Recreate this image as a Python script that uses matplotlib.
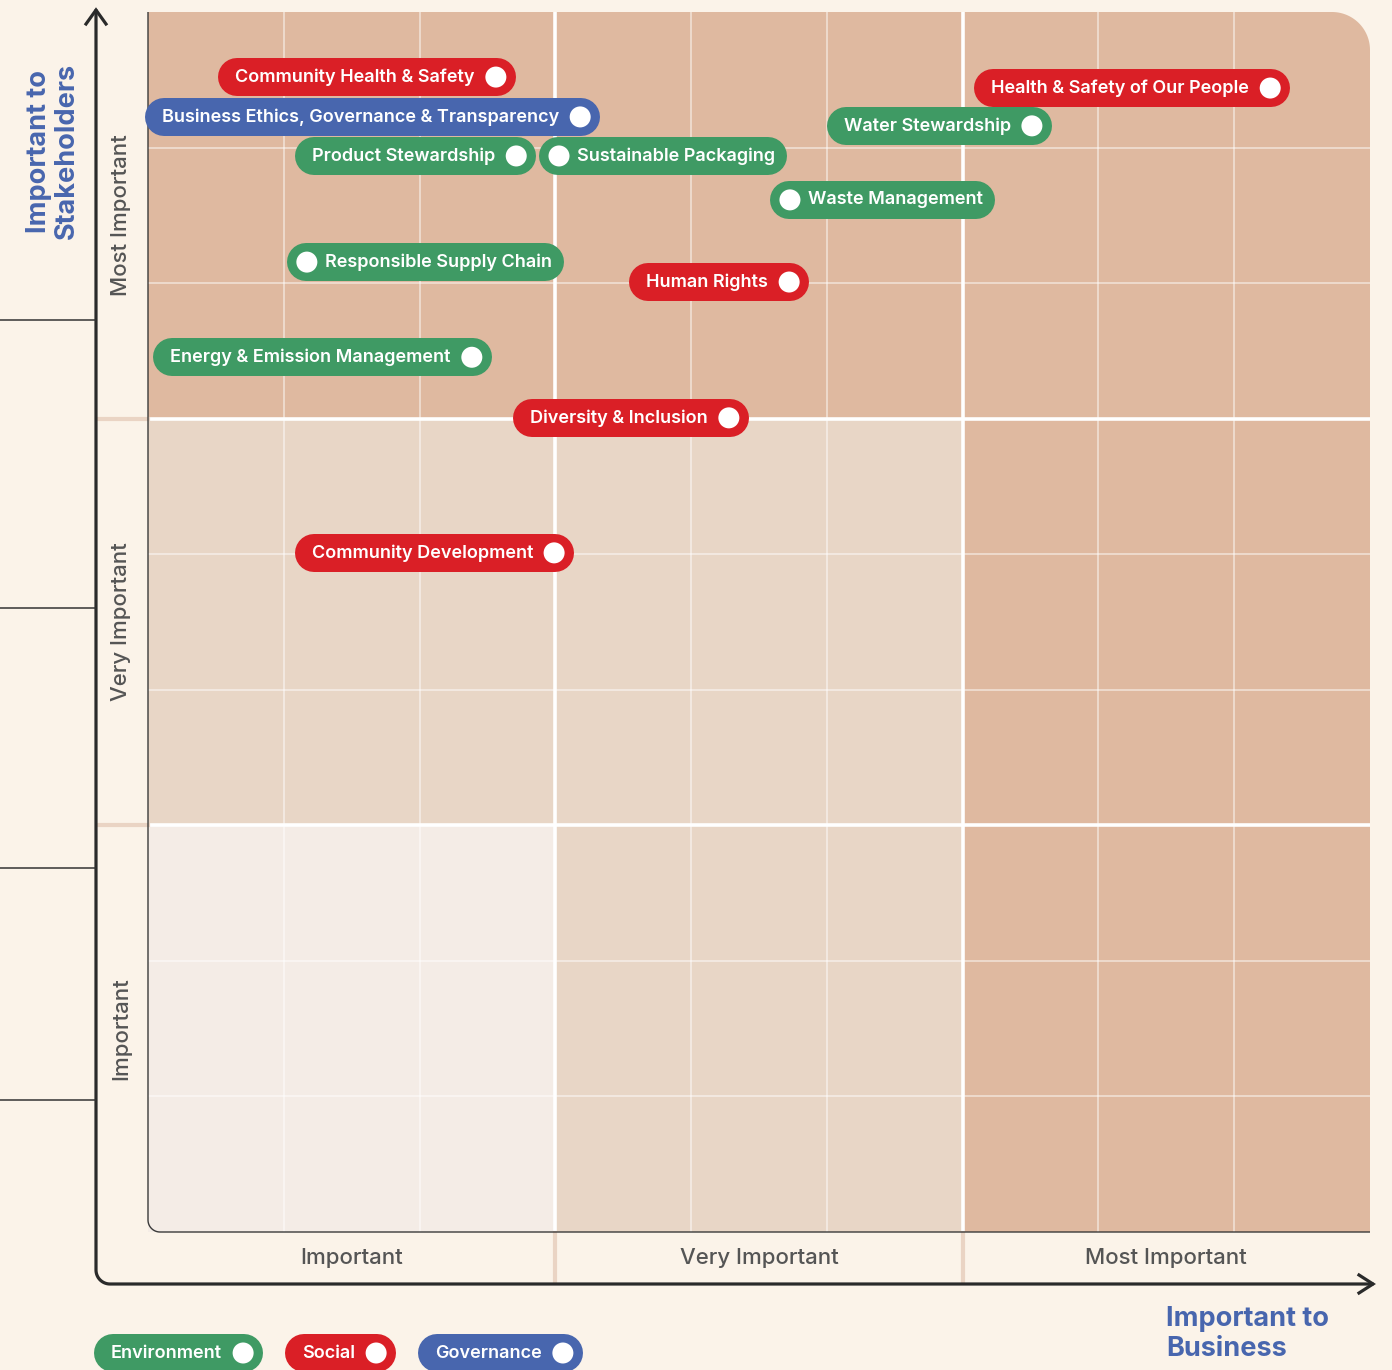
import matplotlib.pyplot as plt
from matplotlib.patches import Rectangle, Circle, Polygon
import numpy as np

# importance scale 0-3: 0-1 Important, 1-2 Very Important, 2-3 Most Important
topics = ["Community Health & Safety", "Business Ethics, Governance & Transparency",
          "Product Stewardship", "Sustainable Packaging", "Health & Safety of Our People",
          "Water Stewardship", "Waste Management", "Responsible Supply Chain",
          "Human Rights", "Energy & Emission Management", "Diversity & Inclusion",
          "Community Development"]
business = [0.854, 1.061, 0.904, 1.009, 2.755, 2.170, 1.576, 0.390, 1.574, 0.795, 1.426, 0.997]
stakeholders = [2.840, 2.742, 2.646, 2.646, 2.813, 2.720, 2.538, 2.385, 2.336, 2.151, 2.002, 1.670]
pillar = ["Social", "Governance", "Environment", "Environment", "Social", "Environment",
          "Environment", "Environment", "Social", "Environment", "Social", "Social"]
label_side = ["left", "left", "left", "right", "left", "left", "right", "right",
              "left", "left", "left", "left"]
levels = ["Important", "Very Important", "Most Important"]
legend_items = ["Environment", "Social", "Governance"]

BG = "#FBF3E9"
zone = ["#F4ECE6", "#E8D6C6", "#DFB9A0"]
pillar_color = {"Environment": "#3F9A64", "Social": "#DA1F26", "Governance": "#4866AE"}
INK = "#2A2A2A"
GREY = "#555555"
BLUE = "#4866AE"
PILL_FS = 13.0

W, H = 1392, 1370
L, R, T, B = 148, 1370, 12, 1232  # grid box in pixels

fig = plt.figure(figsize=(W / 100, H / 100), dpi=100, facecolor=BG)
ax = fig.add_axes([L / W, (H - B) / H, (R - L) / W, (B - T) / H])
ax.set_xlim(0, 3)
ax.set_ylim(0, 3)
ax.axis("off")

cv = fig.add_axes([0, 0, 1, 1], zorder=5)
cv.set_xlim(0, W)
cv.set_ylim(H, 0)
cv.axis("off")
cv.patch.set_alpha(0)

# zones
for i in range(3):
    for j in range(3):
        ax.add_patch(Rectangle((i, j), 1, 1, facecolor=zone[max(i, j)], lw=0))
for k in range(1, 9):
    if k % 3 == 0:
        ax.axvline(k / 3, color="white", lw=2.6)
        ax.axhline(k / 3, color="white", lw=2.6)
    else:
        ax.axvline(k / 3, color="white", lw=1.1, alpha=0.6)
        ax.axhline(k / 3, color="white", lw=1.1, alpha=0.6)

# rounded top-right corner of grid
r = 38
th = np.linspace(0, np.pi / 2, 40)
arc = [(R - r + r * np.cos(t), T + r - r * np.sin(t)) for t in th]
cv.add_patch(Polygon(arc + [(R - r, T - 3), (R + 3, T - 3), (R + 3, T + r)],
                     closed=True, fc=BG, ec="none", zorder=1))

# grid border (left + bottom, rounded corner)
r2 = 12
th = np.linspace(np.pi, np.pi / 2, 20)
pts = [(L, T)] + [(L + r2 + r2 * np.cos(t), B - r2 + r2 * np.sin(t)) for t in th] + [(R, B)]
xs, ys = zip(*pts)
cv.plot(xs, ys, color="#3A3A3A", lw=1.0, zorder=2, solid_capstyle="butt")

# outer axis with arrows
AX, AY = 96, 1284
r3 = 14
pts = [(AX, 11)] + [(AX + r3 + r3 * np.cos(t), AY - r3 + r3 * np.sin(t)) for t in th] + [(1372, AY)]
xs, ys = zip(*pts)
cv.plot(xs, ys, color=INK, lw=2.3, zorder=2)
cv.plot([86, AX, 106], [24, 10, 24], color=INK, lw=2.3, zorder=2, solid_joinstyle="miter")
cv.plot([1359, 1373, 1359], [1275, AY, 1293], color=INK, lw=2.3, zorder=2, solid_joinstyle="miter")

# left tick marks
for yy in [320, 608, 868, 1100]:
    cv.plot([0, AX - 1], [yy, yy], color="#333333", lw=1.1, zorder=2)

# tan separators in label strips
cell_w = (R - L) / 3
cell_h = (B - T) / 3
for k in (1, 2):
    yy = T + k * cell_h
    cv.plot([AX + 2, L], [yy, yy], color="#EAD4C4", lw=3, zorder=1)
    xx = L + k * cell_w
    cv.plot([xx, xx], [B + 1, AY - 2], color="#EAD4C4", lw=3, zorder=1)

# level labels
for i, lvl in enumerate(levels):
    cv.text(L + (i + 0.5) * cell_w, 1258, lvl, ha="center", va="center",
            fontsize=16, color=GREY, family="Inter", fontweight="medium")
    cv.text(121, B - (i + 0.5) * cell_h, lvl, ha="center", va="center", rotation=90,
            fontsize=16, color=GREY, family="Inter", fontweight="medium")

# axis titles
cv.text(53, 151, "Important to\nStakeholders", rotation=90, ha="center", va="center",
        fontsize=19.5, color=BLUE, fontweight="bold", family="Inter", linespacing=1.12)
cv.text(1166, 1334, "Important to\nBusiness", ha="left", va="center",
        fontsize=19.5, color=BLUE, fontweight="bold", family="Inter", linespacing=1.15)

renderer = fig.canvas.get_renderer()
PILL_H = 38
px2pt = 72 / 100


def pill(xd, yd, text, color, side):
    if side == "left":
        t = cv.text(xd - 21, yd, text, ha="right", va="center", color="white",
                    fontsize=PILL_FS, fontweight="semibold", family="Inter", zorder=6)
    else:
        t = cv.text(xd + 18, yd, text, ha="left", va="center", color="white",
                    fontsize=PILL_FS, fontweight="semibold", family="Inter", zorder=6)
    bb = t.get_window_extent(renderer).transformed(cv.transData.inverted())
    x0, x1 = sorted([bb.x0, bb.x1])
    if side == "left":
        left, right = x0 - 17, xd + 20
    else:
        left, right = xd - 20, x1 + 12
    cv.plot([left + PILL_H / 2, right - PILL_H / 2], [yd, yd], color=color,
            lw=PILL_H * px2pt, solid_capstyle="round", zorder=4)
    cv.add_patch(Circle((xd, yd), 10.5, fc="white", ec="none", zorder=5))
    return right


to_cv = cv.transData.inverted()
for name, bx, sy, p, s in zip(topics, business, stakeholders, pillar, label_side):
    xd, yd = to_cv.transform(ax.transData.transform((bx, sy)))
    pill(xd, yd, name, pillar_color[p], s)

# legend
x_left = AX
for item in legend_items:
    t = cv.text(0, 0, item, fontsize=PILL_FS, fontweight="semibold", family="Inter")
    w = t.get_window_extent(renderer).transformed(cv.transData.inverted()).width
    t.remove()
    xd = x_left + 18 + w + 18
    right = pill(xd, 1353, item, pillar_color[item], "left")
    x_left = right + 24

fig.savefig("out.png", dpi=100, facecolor=BG)
